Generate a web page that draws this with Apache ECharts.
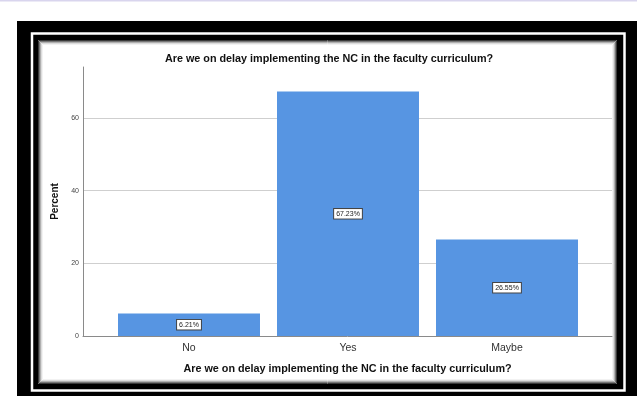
<!DOCTYPE html>
<html>
<head>
<meta charset="utf-8">
<style>
  html, body { margin: 0; padding: 0; background: #fff; }
  #chart { width: 637px; height: 396px; }
</style>
<script src="https://cdn.jsdelivr.net/npm/echarts@6/dist/echarts.min.js"></script>
</head>
<body>
<div id="chart"></div>
<script>
// Survey responses, percent of respondents
const categories = ['No', 'Yes', 'Maybe'];
const percents = [6.21, 67.23, 26.55];
const yTicks = [0, 20, 40, 60];

const questionText = 'Are we on delay implementing the NC in the faculty curriculum?';
const fontFamily = '"Liberation Sans", Arial, sans-serif';
const barColor = '#5795e2';

const chart = echarts.init(document.getElementById('chart'), null, { renderer: 'canvas' });

// Framed border: thick black band, thin white line, inner black band with soft inner shade
const frame = [
  { type: 'rect', shape: { x: 0, y: 0, width: 637, height: 1.5 }, style: { fill: '#d9d5ee' } },
  { type: 'rect', shape: { x: 17, y: 21, width: 630, height: 390 }, style: { fill: '#000' } },
  { type: 'rect', shape: { x: 32, y: 33.5, width: 592.5, height: 357 }, style: { fill: 'none', stroke: '#fff', lineWidth: 2.5 } },
  { type: 'rect', shape: { x: 38, y: 40, width: 579, height: 344 }, style: { fill: '#fff' } },
  { type: 'rect', shape: { x: 38.5, y: 40.5, width: 578, height: 343 }, style: { fill: 'none', stroke: '#3a3a3a', lineWidth: 1 } },
  { type: 'rect', shape: { x: 39.5, y: 41.5, width: 576, height: 341 }, style: { fill: 'none', stroke: '#777', lineWidth: 1 } },
  { type: 'rect', shape: { x: 40.5, y: 42.5, width: 574, height: 339 }, style: { fill: 'none', stroke: '#b0b0b0', lineWidth: 1 } },
  { type: 'rect', shape: { x: 41.5, y: 43.5, width: 572, height: 337 }, style: { fill: 'none', stroke: '#dcdcdc', lineWidth: 1 } },
  { type: 'rect', shape: { x: 42.5, y: 44.5, width: 570, height: 335 }, style: { fill: 'none', stroke: '#f2f2f2', lineWidth: 1 } }
].map(function (g) { g.z = -10; g.silent = true; return g; });

const option = {
  backgroundColor: '#fff',
  animation: false,
  graphic: frame,
  title: {
    text: questionText,
    left: 324,
    top: 49,
    textAlign: 'center',
    textStyle: { fontFamily: fontFamily, fontSize: 10.8, fontWeight: 'bold', color: '#111' }
  },
  grid: [
    // frame of the plot: value axis, gridlines and baseline
    { left: 83, right: 25, top: 67, bottom: 60, containLabel: false },
    // band layout for the bars
    { left: 109.5, right: 50.5, top: 67, bottom: 60, containLabel: false }
  ],
  xAxis: [
    {
      type: 'category',
      gridIndex: 0,
      data: categories,
      name: questionText,
      nameLocation: 'middle',
      nameGap: 28,
      nameTextStyle: { fontFamily: fontFamily, fontSize: 10.8, fontWeight: 'bold', color: '#111' },
      axisLine: { show: true, lineStyle: { color: '#8a8a8a', width: 1 } },
      axisTick: { show: false },
      axisLabel: { show: false },
      splitLine: { show: false }
    },
    {
      type: 'category',
      gridIndex: 1,
      data: categories,
      axisLine: { show: false },
      axisTick: { show: false },
      axisLabel: { show: true, margin: 7, fontFamily: fontFamily, fontSize: 10.5, color: '#333' }
    }
  ],
  yAxis: [
    {
      type: 'value',
      gridIndex: 0,
      min: yTicks[0],
      max: 74,
      interval: yTicks[1] - yTicks[0],
      name: 'Percent',
      nameLocation: 'middle',
      nameGap: 21,
      nameTextStyle: { fontFamily: fontFamily, fontSize: 10, fontWeight: 'bold', color: '#111' },
      axisLine: { show: true, lineStyle: { color: '#8a8a8a', width: 1 } },
      axisTick: { show: false },
      axisLabel: {
        margin: 4, fontFamily: fontFamily, fontSize: 7, color: '#444',
        showMaxLabel: false,
        formatter: function (v) { return yTicks.indexOf(v) >= 0 ? String(v) : ''; }
      },
      splitLine: { show: true, showMinLine: false, showMaxLine: false, lineStyle: { color: '#cfcfcf', width: 1 } }
    },
    {
      type: 'value',
      gridIndex: 1,
      min: yTicks[0],
      max: 74,
      show: false,
      splitLine: { show: false }
    }
  ],
  series: [
    {
      type: 'bar',
      xAxisIndex: 1,
      yAxisIndex: 1,
      data: percents,
      barCategoryGap: '10.7%',
      itemStyle: { color: barColor },
      label: {
        show: true,
        position: 'inside',
        formatter: function (p) { return p.value.toFixed(2) + '%'; },
        fontFamily: fontFamily,
        fontSize: 7,
        color: '#222',
        backgroundColor: '#fff',
        borderColor: '#444',
        borderWidth: 1,
        padding: [1.5, 2, 1, 2]
      }
    }
  ]
};

chart.setOption(option);
</script>
</body>
</html>
